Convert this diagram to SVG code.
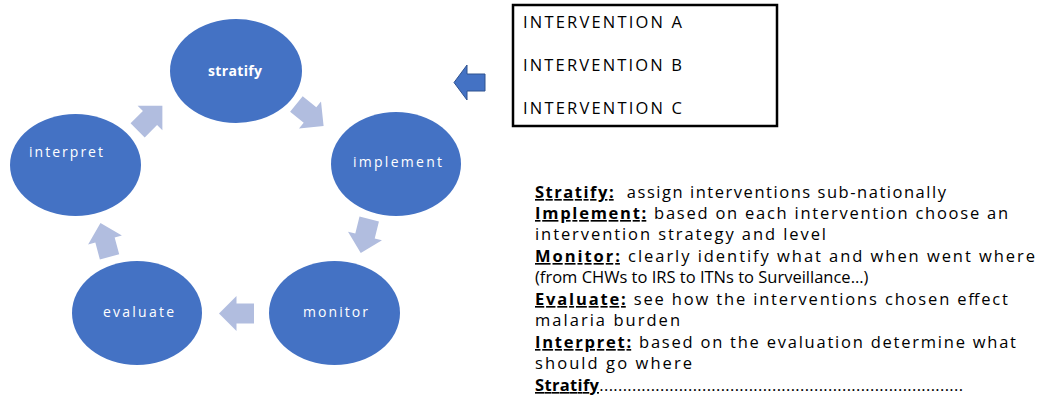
<svg xmlns="http://www.w3.org/2000/svg" width="1040" height="399" viewBox="0 0 1040 399">
  <style>
    .node { fill: #4472C4; }
    .lbl { fill: #FFFFFF; font-family: "Open Sans", "Liberation Sans", sans-serif; font-size: 14px; text-anchor: middle; }
    .lbl-b { font-weight: bold; }
    .cyc { fill: #B1BDDF; }
    .box { fill: #FFFFFF; stroke: #000000; stroke-width: 2.5; }
    .boxtxt { fill: #000000; font-family: "Open Sans", "Liberation Sans", sans-serif; font-size: 16.5px; }
    .note { fill: #000000; font-family: "Open Sans", "Liberation Sans", sans-serif; font-size: 16.5px; white-space: pre; }
    .key { font-weight: bold; text-decoration: underline; }
  </style>
  <defs>
    <!-- block arrow pointing right, centred on the origin -->
    <polygon id="cyc-arrow" points="-17.5,-10 0,-10 0,-17.5 17.5,0 0,17.5 0,10 -17.5,10"/>
  </defs>

  <rect width="1040" height="399" fill="#FFFFFF"/>

  <!-- cycle connectors -->
  <g id="connectors">
    <use href="#cyc-arrow" class="cyc" transform="translate(150,118) rotate(-45)"/>
    <use href="#cyc-arrow" class="cyc" transform="translate(310,115) rotate(39)"/>
    <use href="#cyc-arrow" class="cyc" transform="translate(365,236) rotate(104)"/>
    <use href="#cyc-arrow" class="cyc" transform="translate(236.5,313.5) rotate(180)"/>
    <use href="#cyc-arrow" class="cyc" transform="translate(105,240) rotate(-105)"/>
    <!-- arrow feeding the interventions into the cycle -->
    <polygon points="454,82.5 467,65 467,74 485,74 485,91 467,91 467,100" fill="#4472C4" stroke="#2F528F" stroke-width="1"/>
  </g>

  <g id="node-stratify">
    <ellipse class="node" cx="236" cy="71" rx="66" ry="52"/>
    <text class="lbl lbl-b" x="235" y="76" textLength="54">stratify</text>
  </g>
  <g id="node-implement">
    <ellipse class="node" cx="396" cy="164" rx="65" ry="52"/>
    <text class="lbl" x="397.5" y="167" textLength="89">implement</text>
  </g>
  <g id="node-monitor">
    <ellipse class="node" cx="334.5" cy="313" rx="65.5" ry="52"/>
    <text class="lbl" x="335.5" y="317" textLength="65">monitor</text>
  </g>
  <g id="node-evaluate">
    <ellipse class="node" cx="137" cy="313" rx="65" ry="52"/>
    <text class="lbl" x="138.5" y="317" textLength="71">evaluate</text>
  </g>
  <g id="node-interpret">
    <ellipse class="node" cx="75.5" cy="165" rx="65.5" ry="51"/>
    <text class="lbl" x="66" y="157" textLength="74">interpret</text>
  </g>

  <g id="node-interventions">
    <rect class="box" x="513" y="5" width="264" height="121"/>
    <text class="boxtxt" x="523" y="28" textLength="159">INTERVENTION A</text>
    <text class="boxtxt" x="523" y="71" textLength="159">INTERVENTION B</text>
    <text class="boxtxt" x="523" y="114" textLength="159">INTERVENTION C</text>
  </g>

  <g id="legend">
    <text class="note" x="535" y="198" textLength="411"><tspan class="key">Stratify:</tspan>  assign interventions sub-nationally</text>
    <text class="note" x="535" y="219" textLength="473"><tspan class="key">Implement:</tspan> based on each intervention choose an</text>
    <text class="note" x="535" y="240" textLength="291">intervention strategy and level</text>
    <text class="note" x="535" y="262" textLength="500"><tspan class="key">Monitor:</tspan> clearly identify what and when went where</text>
    <text class="note" x="535" y="283">(from CHWs to IRS to ITNs to Surveillance…)</text>
    <text class="note" x="535" y="305" textLength="473"><tspan class="key">Evaluate:</tspan> see how the interventions chosen effect</text>
    <text class="note" x="535" y="326" textLength="145">malaria burden</text>
    <text class="note" x="535" y="348" textLength="481"><tspan class="key">Interpret:</tspan> based on the evaluation determine what</text>
    <text class="note" x="535" y="369" textLength="157">should go where</text>
    <text class="note" x="535" y="391" textLength="428"><tspan class="key">Stratify</tspan>..............................................................................</text>
  </g>
</svg>
